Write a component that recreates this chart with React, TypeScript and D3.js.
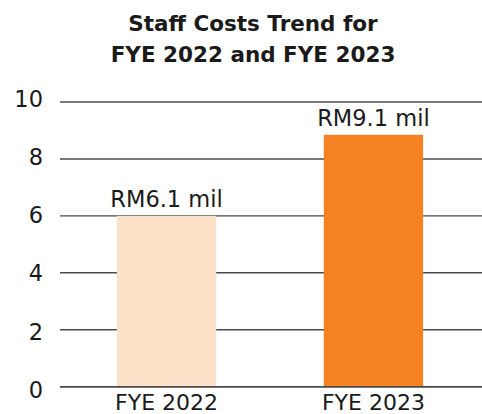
import React from "react";
import * as d3 from "d3";

const categories: string[] = ["FYE 2022", "FYE 2023"];
const values: number[] = [6.0, 8.85];
const valueLabels: string[] = ["RM6.1 mil", "RM9.1 mil"];
const yTicks: number[] = [0, 2, 4, 6, 8, 10];
const titleLines: string[] = ["Staff Costs Trend for", "FYE 2022 and FYE 2023"];
const barColors: string[] = ["#FCE2C8", "#F58222"];

const W = 482;
const H = 414;
const FONT = "'DejaVu Sans', Verdana, sans-serif";

export default function App() {
  const x = d3
    .scaleBand<string>()
    .domain(categories)
    .range([60, 480])
    .paddingInner(0.52)
    .paddingOuter(0.275);
  const y = d3.scaleLinear().domain([0, 10]).range([386.7, 102]);
  const yLabel = d3.scaleLinear().domain([0, 10]).range([398, 106.7]);

  return (
    <svg
      width={W}
      height={H}
      style={{ position: "absolute", left: 0, top: 0, background: "#fff" }}
    >
      <g fontFamily={FONT} fill="#1a1a1a">
        {titleLines.map((t, i) => (
          <text
            key={t}
            x={253}
            y={31 + i * 31}
            textAnchor="middle"
            fontSize={21.5}
            fontWeight="bold"
          >
            {t}
          </text>
        ))}
      </g>
      {yTicks.map((v) => (
        <line
          key={"g" + v}
          x1={60}
          x2={W}
          y1={y(v)}
          y2={y(v)}
          stroke="#4a4a4a"
          strokeWidth={1.4}
        />
      ))}
      {yTicks.map((v) => (
        <text
          key={"t" + v}
          x={43}
          y={yLabel(v)}
          textAnchor="end"
          fontFamily={FONT}
          fontSize={22.5}
          fill="#1a1a1a"
        >
          {v}
        </text>
      ))}
      {categories.map((c, i) => (
        <rect
          key={c}
          x={x(c)}
          y={y(values[i])}
          width={x.bandwidth()}
          height={y(0) - y(values[i])}
          fill={barColors[i]}
        />
      ))}
      <line x1={60} x2={W} y1={y(0)} y2={y(0)} stroke="#4a4a4a" strokeWidth={1.4} />
      {categories.map((c, i) => (
        <text
          key={"v" + c}
          x={(x(c) as number) + x.bandwidth() / 2}
          y={y(values[i]) - 9}
          textAnchor="middle"
          fontFamily={FONT}
          fontSize={22.5}
          fill="#1a1a1a"
        >
          {valueLabels[i]}
        </text>
      ))}
      {categories.map((c) => (
        <text
          key={"x" + c}
          x={(x(c) as number) + x.bandwidth() / 2}
          y={409.5}
          textAnchor="middle"
          fontFamily={FONT}
          fontSize={22}
          fill="#1a1a1a"
        >
          {c}
        </text>
      ))}
    </svg>
  );
}
